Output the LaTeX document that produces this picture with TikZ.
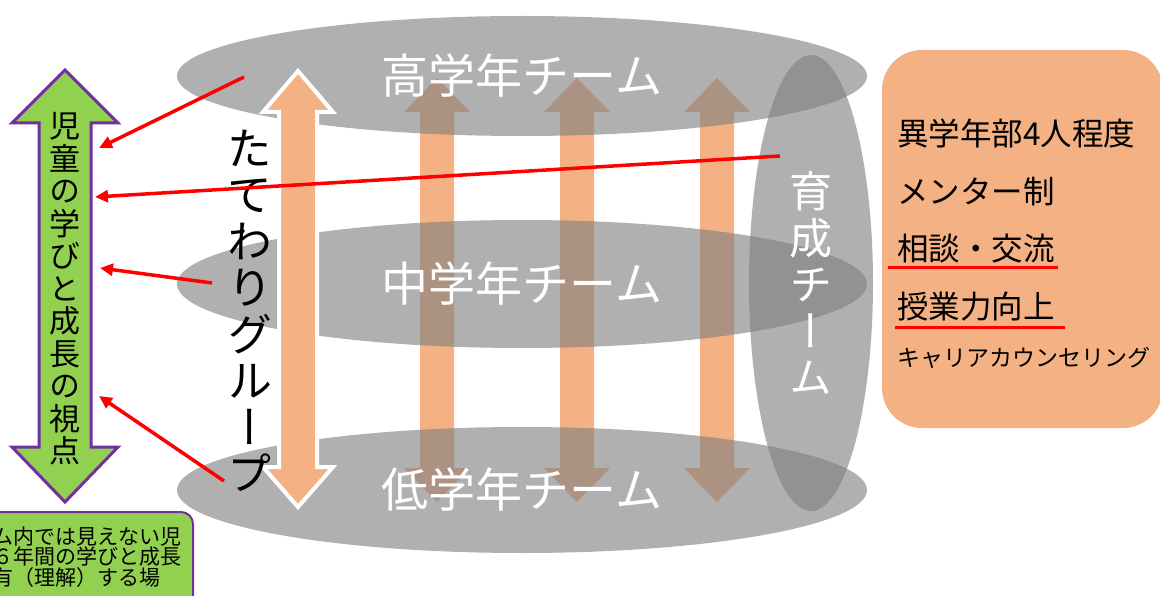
\documentclass[tikz,border=0pt]{standalone}
\usepackage{fontspec}
\usepackage{tikz}
\usetikzlibrary{shapes.geometric,arrows.meta}
\setmainfont{Noto Sans CJK JP}
\newfontfamily\tatefont[RawFeature=+vert]{Noto Sans CJK JP}
\definecolor{teamgray}{RGB}{128,128,128}
\definecolor{arrorange}{RGB}{244,177,131}
\definecolor{viewgreen}{RGB}{146,208,80}
\definecolor{viewpurple}{RGB}{112,48,160}
\definecolor{linkred}{RGB}{255,0,0}

\begin{document}
\begin{tikzpicture}[x=1pt,y=-1pt,
  team/.style={ellipse, inner sep=0pt, fill=teamgray, fill opacity=0.62, text opacity=1, text=white},
  tatetext/.style={align=center, inner sep=0pt},
  link/.style={linkred, line width=3.5pt, -{Triangle[length=13pt,width=12pt]}},
  memo/.style={anchor=west, inner sep=0pt, font=\fontsize{31.5}{31.5}\selectfont},
  underl/.style={linkred, line width=3pt}]
\clip (0,0) rectangle (1160,596);
% Orange arrows behind the teams
\foreach \x in {437,577,717} {
    \fill[arrorange] (\x,78) -- ++(33,34) -- ++(-16,0) -- ++(0,356) -- ++(16,0) -- ++(-33,34)
        -- ++(-33,-34) -- ++(16,0) -- ++(0,-356) -- ++(-16,0) -- cycle;
}
% The four teams
\node[team, minimum width=690pt, minimum height=120pt, font=\fontsize{47}{47}\selectfont] (high) at (522,76) {高学年チーム};
\node[team, minimum width=690pt, minimum height=128pt, font=\fontsize{47}{47}\selectfont] (mid) at (522,284) {中学年チーム};
\node[team, minimum width=690pt, minimum height=126pt, font=\fontsize{47}{47}\selectfont] (low) at (522,490) {低学年チーム};
\node[team, minimum width=124pt, minimum height=456pt, align=center, font=\tatefont\fontsize{43}{46.5}\selectfont] (ikusei) at (811,283) {育\\成\\チ\\ー\\ム};
% Tatewari arrow
\draw[white, line width=4pt, fill=arrorange] (298,71) -- ++(35,41) -- ++(-16,0) -- ++(0,355) -- ++(16,0) -- ++(-35,40)
    -- ++(-35,-40) -- ++(16,0) -- ++(0,-355) -- ++(-16,0) -- cycle;
\node[tatetext, font=\tatefont\fontsize{45}{46.5}\selectfont] (tatewari) at (250,311) {た\\て\\わ\\り\\グ\\ル\\ー\\プ};
% Point of view arrow
\draw[viewpurple, line width=3pt, fill=viewgreen] (65,70) -- ++(53,53) -- ++(-27,0) -- ++(0,324) -- ++(27,0) -- ++(-53,55)
    -- ++(-53,-55) -- ++(27,0) -- ++(0,-324) -- ++(-27,0) -- cycle;
\node[tatetext, font=\tatefont\fontsize{31}{32.5}\selectfont] (shiten) at (65,289) {児\\童\\の\\学\\び\\と\\成\\長\\の\\視\\点};
\draw[viewpurple, line width=2pt, fill=viewgreen, rounded corners=12pt] (-20,512) rectangle (193,620);
\node[anchor=west, align=left, inner sep=0pt, font=\fontsize{21}{20.5}\selectfont] (place) at (-8,557)
    {ム内では見えない児\\６年間の学びと成長\\有（理解）する場};
% Red links
\coordinate (f1) at (244,77);  \coordinate (t1) at (99,148);
\coordinate (f2) at (780,156); \coordinate (t2) at (95,197);
\coordinate (f3) at (212,283); \coordinate (t3) at (100,268);
\coordinate (f4) at (224,481); \coordinate (t4) at (99,396);
\foreach \i in {1,...,4} {
    \draw[link] (f\i) -- (t\i);
}
% Mentor box
\fill[arrorange, rounded corners=40pt] (882,50) rectangle (1163,428);
\node[memo] (ibunka) at (897,133) {異学年部4人程度};
\node[memo] (mentor) at (897,192) {メンター制};
\node[memo] (soudan) at (897,249) {相談・交流};
\node[memo] (jugyou) at (897,307) {授業力向上};
\node[memo, font=\fontsize{23}{23}\selectfont] (career) at (897,358) {キャリアカウンセリング};
\draw[underl] ([shift={(-9,19)}]soudan.west) -- ([shift={(3,19)}]soudan.east);
\draw[underl] ([shift={(-2,20)}]jugyou.west) -- ([shift={(10,20)}]jugyou.east);
\end{tikzpicture}
\end{document}
